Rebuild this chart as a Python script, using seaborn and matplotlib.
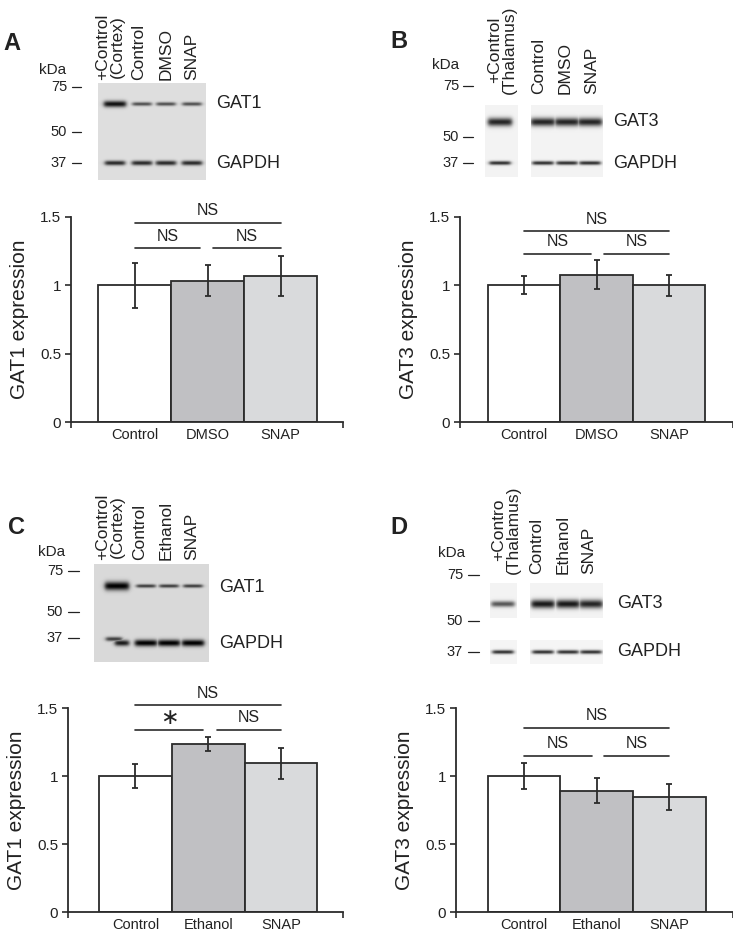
import numpy as np
import pandas as pd
import seaborn as sns
import matplotlib.pyplot as plt

W, H = 733, 934

# ---- bar chart data (mean, error) ----
groups_dmso = ['Control', 'DMSO', 'SNAP']
groups_eth = ['Control', 'Ethanol', 'SNAP']

gat1_dmso_mean = [1.00, 1.035, 1.07]
gat1_dmso_err = [0.165, 0.115, 0.148]
gat3_dmso_mean = [1.00, 1.078, 1.00]
gat3_dmso_err = [0.066, 0.105, 0.078]
gat1_eth_mean = [1.00, 1.233, 1.093]
gat1_eth_err = [0.086, 0.052, 0.112]
gat3_eth_mean = [1.00, 0.892, 0.848]
gat3_eth_err = [0.098, 0.093, 0.095]

yticks = [0, 0.5, 1, 1.5]
ytick_labels = ['0', '0.5', '1', '1.5']

# significance labels: [all, left pair, right pair]
sig_a = ['NS', 'NS', 'NS']
sig_b = ['NS', 'NS', 'NS']
sig_c = ['NS', '\u2217', 'NS']
sig_d = ['NS', 'NS', 'NS']

# ---- western blot band strengths (0 = none, 1 = black) per lane ----
blot_lanes_a = ['+Control\n(Cortex)', 'Control', 'DMSO', 'SNAP']
blot_lanes_b = ['+Control\n(Thalamus)', 'Control', 'DMSO', 'SNAP']
blot_lanes_c = ['+Control\n(Cortex)', 'Control', 'Ethanol', 'SNAP']
blot_lanes_d = ['+Contro\n(Thalamus)', 'Control', 'Ethanol', 'SNAP']
band_a_gat1 = [0.80, 0.55, 0.55, 0.55]
band_a_gapdh = [0.70, 0.70, 0.70, 0.70]
band_b_gat3 = [0.80, 0.80, 0.80, 0.80]
band_b_gapdh = [0.75, 0.75, 0.75, 0.75]
band_c_gat1 = [0.85, 0.60, 0.60, 0.60]
band_c_gapdh = [0.75, 0.85, 0.85, 0.85]
band_d_gat3 = [0.60, 0.85, 0.85, 0.80]
band_d_gapdh = [0.75, 0.75, 0.75, 0.75]
kda_marks = ['75', '50', '37']

bar_colors = ['#ffffff', '#bfc0c3', '#d9dadc']
ink = '#222222'

sns.set_style('ticks')
plt.rcParams['font.family'] = ['Liberation Sans', 'DejaVu Sans']

fig = plt.figure(figsize=(W / 100, H / 100), dpi=100)

# overlay axes in pixel coordinates for blots and labels
ov = fig.add_axes([0, 0, 1, 1], zorder=0)
ov.set_xlim(0, W)
ov.set_ylim(H, 0)
ov.axis('off')


def blot(x0, x1, y0, y1, bg, bands):
    xs = np.arange(x0, x1) + 0.5
    ys = np.arange(y0, y1) + 0.5
    dark = np.zeros((len(ys), len(xs)))
    for cx, cy, hw, hh, depth in bands:
        px = 1 / (1 + np.exp((np.abs(xs - cx) - hw) / 1.2))
        py = np.exp(-((ys - cy) / hh) ** 2)
        dark = np.maximum(dark, depth * np.outer(py, px))
    img = np.clip(bg - dark, 0, 1)
    ov.imshow(img, cmap='gray', vmin=0, vmax=1,
              extent=(x0, x1, y1, y0), aspect='auto', interpolation='bilinear')


def blot_labels(letter, lxy, lanes, lane_x, lane_bottom, kda_xy, marks_y,
                mark_right, dash, prot, prot_x, prot_y):
    ov.text(lxy[0], lxy[1], letter, fontsize=17, fontweight='bold',
            color=ink, va='center', ha='left')
    for name, x in zip(lanes, lane_x):
        ov.text(x, lane_bottom, name, rotation=90, ha='center', va='bottom',
                fontsize=12.5, color=ink, linespacing=0.9)
    ov.text(kda_xy[0], kda_xy[1], 'kDa', fontsize=11, color=ink,
            ha='center', va='center')
    for m, y in zip(kda_marks, marks_y):
        ov.text(mark_right, y, m, fontsize=10.5, color=ink, ha='right', va='center')
        ov.plot(dash, [y, y], color=ink, lw=0.9)
    for p, y in zip(prot, prot_y):
        ov.text(prot_x, y, p, fontsize=13, color=ink, ha='left', va='center')


# ---- panel A blot ----
lx = [115, 142, 166, 192]
blot(98, 206, 83, 180, 0.87,
     [(lx[0], 104, 11, 3.2, band_a_gat1[0])] +
     [(x, 104, 9.5, 1.9, d) for x, d in zip(lx[1:], band_a_gat1[1:])] +
     [(x, 163, 10, 2.4, d) for x, d in zip(lx, band_a_gapdh)])
blot_labels('A', (3, 43), blot_lanes_a, [110, 139, 166, 192], 80, (53, 70),
            [87, 132, 163], 67, [72, 81], ['GAT1', 'GAPDH'], 216, [104, 163])

# ---- panel B blot ----
lx = [500, 543, 567, 590]
for bx0, bx1, idx in [(485, 518, [0]), (531, 603, [1, 2, 3])]:
    blot(bx0, bx1, 105, 177, 0.95,
         [(lx[i], 122, 12, 4.2, band_b_gat3[i]) for i in idx] +
         [(lx[i], 163, 10.5, 2.0, band_b_gapdh[i]) for i in idx])
blot_labels('B', (390, 42), blot_lanes_b, [502, 539, 565, 592], 94, (446, 65),
            [86, 137, 163], 459, [463, 473], ['GAT3', 'GAPDH'], 613, [122, 163])

# ---- panel C blot ----
lx = [117, 146, 169, 193]
blot(94, 209, 564, 662, 0.85,
     [(lx[0], 586, 12, 4.3, band_c_gat1[0])] +
     [(x, 586, 9.5, 1.8, d) for x, d in zip(lx[1:], band_c_gat1[1:])] +
     [(lx[0] - 3, 639, 8, 2.2, band_c_gapdh[0] * 0.8),
      (lx[0] + 5, 643, 7, 3.0, band_c_gapdh[0])] +
     [(x, 643, 11, 3.4, d) for x, d in zip(lx[1:], band_c_gapdh[1:])])
blot_labels('C', (8, 528), blot_lanes_c, [110, 140, 166, 192], 560, (52, 552),
            [571, 612, 638], 63, [68, 79], ['GAT1', 'GAPDH'], 219, [587, 643])

# ---- panel D blot ----
lx = [503, 543, 568, 591]
for bx0, bx1, idx in [(490, 517, [0]), (530, 603, [1, 2, 3])]:
    blot(bx0, bx1, 583, 618, 0.95,
         [(lx[i], 604, 11.5, 3.0 if i == 0 else 4.3, band_d_gat3[i]) for i in idx])
    blot(bx0, bx1, 640, 664, 0.96,
         [(lx[i], 652, 10.5, 2.0, band_d_gapdh[i]) for i in idx])
blot_labels('D', (390, 527), blot_lanes_d, [506, 537, 563, 589], 574, (452, 553),
            [575, 621, 652], 463, [468, 479], ['GAT3', 'GAPDH'], 617, [604, 652])


# ---- bar charts ----
def bar_panel(px_left, px_right, px_y0, px_y15, xlim, groups, means, errs,
              ylabel, sig, levels, left_end, right_start):
    ax = fig.add_axes([px_left / W, (H - px_y0) / H,
                       (px_right - px_left) / W, (px_y0 - px_y15) / H], zorder=2)
    ax.patch.set_alpha(0)
    df = pd.DataFrame({'group': groups, 'value': means})
    sns.barplot(data=df, x='group', y='value', hue='group', palette=bar_colors,
                width=1.0, edgecolor='#2b2b2b', linewidth=1.3, errorbar=None,
                legend=False, ax=ax)
    ax.errorbar(range(len(groups)), means, yerr=errs, fmt='none',
                ecolor='#2b2b2b', elinewidth=1.3, capsize=2.2, capthick=1.3)
    ax.set_xlim(*xlim)
    ax.set_ylim(0, 1.5)
    ax.set_yticks(yticks)
    ax.set_yticklabels(ytick_labels)
    ax.set_xticks([xlim[0], xlim[1]], minor=True)
    ax.tick_params(axis='x', which='major', length=0, labelsize=10.5,
                   colors=ink, pad=4)
    ax.tick_params(axis='x', which='minor', length=4, width=1.2, color='#2b2b2b')
    ax.tick_params(axis='y', length=4, width=1.2, labelsize=11,
                   colors=ink, color='#2b2b2b', pad=3)
    ax.set_xlabel('')
    ax.set_ylabel(ylabel, fontsize=15, color=ink, labelpad=8)
    for s in ['top', 'right']:
        ax.spines[s].set_visible(False)
    for s in ['left', 'bottom']:
        ax.spines[s].set_linewidth(1.3)
        ax.spines[s].set_color('#2b2b2b')
    # significance brackets
    top, low = levels
    spans = [(0, 2, top), (0, left_end, low), (right_start, 2, low)]
    for (a, b, y), lab in zip(spans, sig):
        ax.plot([a, b], [y, y], color='#2b2b2b', lw=1.2, clip_on=False)
        if lab == 'NS':
            ax.text((a + b) / 2, y + 0.035, lab, ha='center', va='bottom',
                    fontsize=11.5, color=ink, clip_on=False)
        else:
            ax.text((a + b) / 2, y + 0.085, lab, ha='center', va='center',
                    fontsize=16, color=ink, clip_on=False,
                    family=['DejaVu Sans'])
    return ax


bar_panel(71, 343, 422, 217, (-0.87, 2.856), groups_dmso, gat1_dmso_mean,
          gat1_dmso_err, 'GAT1 expression', sig_a, (1.455, 1.27), 0.9, 1.08)
bar_panel(460, 733, 422, 217, (-0.883, 2.883), groups_dmso, gat3_dmso_mean,
          gat3_dmso_err, 'GAT3 expression', sig_b, (1.395, 1.228), 0.93, 1.1)
bar_panel(68, 343, 912, 708, (-0.928, 2.854), groups_eth, gat1_eth_mean,
          gat1_eth_err, 'GAT1 expression', sig_c, (1.52, 1.34), 0.93, 1.12)
bar_panel(456, 733, 912, 708, (-0.935, 2.875), groups_eth, gat3_eth_mean,
          gat3_eth_err, 'GAT3 expression', sig_d, (1.352, 1.15), 0.94, 1.1)

fig.savefig('out.png', dpi=100)
